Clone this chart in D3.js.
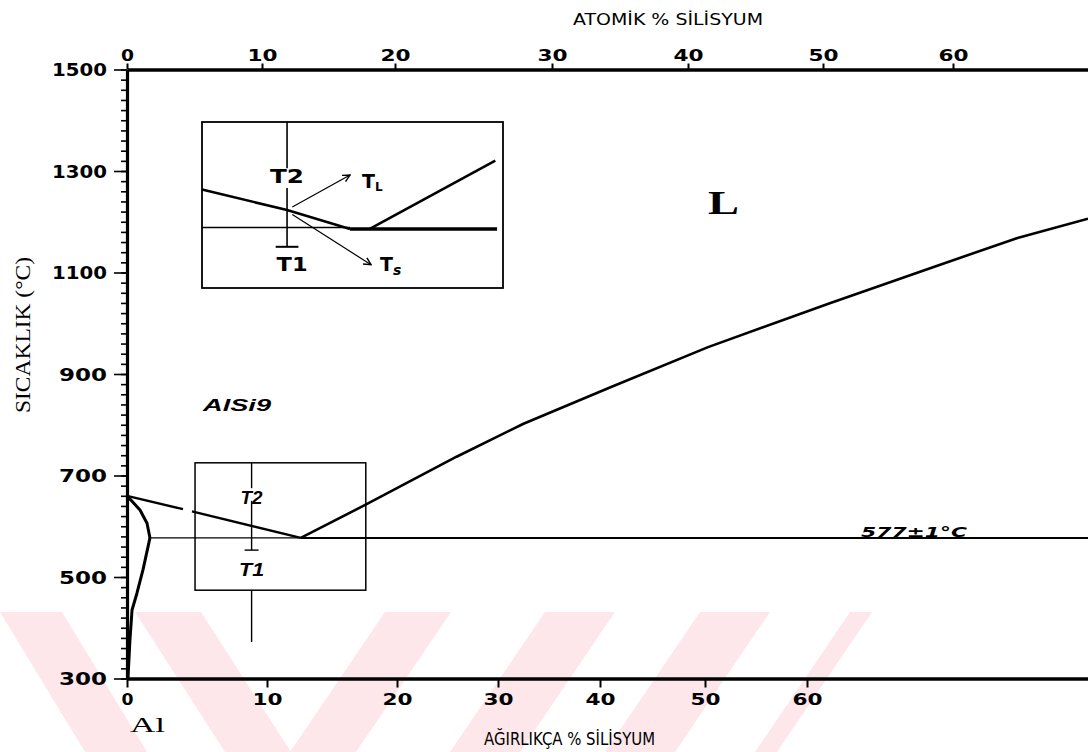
<!DOCTYPE html>
<html><head><meta charset="utf-8">
<script src="https://cdn.jsdelivr.net/npm/d3@7"></script>
<style>html,body{margin:0;padding:0;background:#fff;} svg{display:block;}</style>
</head><body>
<svg id="c" width="1088" height="752"></svg>
<script>
// ---------------- data ----------------
const yTicks = [300, 500, 700, 900, 1100, 1300, 1500];
const yMinorStep = 20;
const xTicksWt = [0, 10, 20, 30, 40, 50, 60];
const xTicksAt = [0, 10, 20, 30, 40, 50, 60];
// Al-Si phase diagram (wt% Si, °C)
const liquidusLeftA = [[0, 660], [4.0, 633.6]];
const liquidusLeftB = [[4.64, 629.4], [12.6, 577]];
const liquidusRight = [[12.6, 577], [17.7, 644], [25.9, 737], [32.5, 802], [41.0, 874], [50.3, 953], [62.3, 1040], [72.4, 1111], [80.6, 1168], [87.5, 1206]];
const solidusAl = [[0, 660], [0.93, 632], [1.43, 606], [1.64, 577]];
const solvusAl = [[1.64, 577], [1.14, 514], [0.71, 468], [0.36, 435], [0.21, 376], [0.07, 300]];
const eutectic = [[1.64, 577], [12.6, 577], [87.5, 577]];
const alloySi = 8.9;                   // AlSi9
const zoomBox = [4.86, 17.6, 474, 725]; // wt min, wt max, T min, T max
const alloySegs = [[725, 675], [650, 553], [474, 372]];
// inset (schematic enlargement)
const insetDomainX = [4.14, 21.34];
const insetDomainY = [499.4, 717.8];
const insetLiqLeft = [[4.14, 629], [9, 602], [12.6, 577]];
const insetLiqRight = [[13.7, 577], [20.9, 667]];
const insetEutThin = [[4.14, 579], [12.6, 579]];
const insetEutThick = [[12.6, 577], [21.0, 577]];

// ---------------- scales ----------------
const svg = d3.select("#c");
const x = d3.scaleLinear().domain([0, 10, 20, 30, 40, 50, 60, 87.5]).range([127, 267, 397, 498, 600, 705, 807, 1088]);
const xAt = d3.scaleLinear().domain([0, 10, 20, 30, 40, 50, 60, 70]).range([127, 262, 395, 552, 688, 823, 953, 1088]);
const y = d3.scaleLinear().domain([300, 1500]).range([678.5, 69.5]);
const line = d3.line().x(d => x(d[0])).y(d => y(d[1]));

// ---------------- watermark ----------------
const wm = svg.append("g").attr("fill", "#fde7eb");
const stripes = [
  // [x at top, x at bottom, width]
  [0, 85, 62], [135, 225, 66], [385, 290, 66],
  [545, 450, 70], [700, 605, 70], [850, 755, 22]
];
stripes.forEach(s => {
  wm.append("path").attr("d", `M${s[0]},612 L${s[0] + s[2]},612 L${s[1] + s[2]},752 L${s[1]},752 Z`);
});

// ---------------- axes ----------------
const fontTick = "'DejaVu Sans', sans-serif";
const fmt = d3.format("d");
// left axis
const gL = svg.append("g").attr("transform", `translate(${x(0)},0)`);
gL.call(d3.axisLeft(y).tickValues(d3.range(300, 1501, yMinorStep)).tickSize(6).tickSizeOuter(0).tickFormat(""));
gL.call(g => g.selectAll(".tick line").attr("stroke-width", 1.6));
const gL2 = svg.append("g").attr("transform", `translate(${x(0)},0)`);
gL2.call(d3.axisLeft(y).tickValues(yTicks).tickFormat(fmt).tickSize(13).tickSizeOuter(0).tickPadding(7));
gL2.selectAll(".domain").attr("stroke-width", 3.2);
gL2.selectAll(".tick line").attr("stroke-width", 1.6);
gL2.selectAll(".tick text")
  .attr("font-family", fontTick).attr("font-weight", "bold").attr("font-size", 18)
  .attr("dy", "0.36em")
  .attr("textLength", function () { return this.textContent.length > 3 ? 55 : 48; })
  .attr("lengthAdjust", "spacingAndGlyphs");

// bottom axis
const gB = svg.append("g").attr("transform", `translate(0,${y(300)})`);
gB.call(d3.axisBottom(x).tickValues(xTicksWt).tickFormat(fmt).tickSize(9).tickSizeOuter(0).tickPadding(6));
gB.selectAll(".domain").attr("stroke-width", 3.6);
gB.selectAll(".tick line").attr("stroke-width", 2);
gB.selectAll(".tick text")
  .attr("font-family", fontTick).attr("font-weight", "bold").attr("font-size", 16)
  .attr("textLength", function () { return this.textContent.length > 1 ? 30 : 12; })
  .attr("lengthAdjust", "spacingAndGlyphs");

// top axis (atomic %)
const gT = svg.append("g").attr("transform", `translate(0,${y(1500)})`);
gT.call(d3.axisTop(xAt).tickValues(xTicksAt).tickFormat(fmt).tickSize(6).tickSizeOuter(0).tickPadding(3));
gT.selectAll(".domain").attr("stroke-width", 3.6);
gT.selectAll(".tick line").attr("stroke-width", 2);
gT.selectAll(".tick text")
  .attr("font-family", fontTick).attr("font-weight", "bold").attr("font-size", 16)
  .attr("textLength", function () { return this.textContent.length > 1 ? 30 : 13; })
  .attr("lengthAdjust", "spacingAndGlyphs");

// axis titles
svg.append("text").text("ATOMİK % SİLİSYUM")
  .attr("x", 573).attr("y", 25).attr("font-family", "'DejaVu Sans', sans-serif").attr("font-size", 16)
  .attr("textLength", 190).attr("lengthAdjust", "spacingAndGlyphs");
svg.append("text").text("AĞIRLIKÇA % SİLİSYUM")
  .attr("x", 484).attr("y", 745).attr("font-family", "'DejaVu Sans', sans-serif").attr("font-size", 18)
  .attr("textLength", 171).attr("lengthAdjust", "spacingAndGlyphs");
svg.append("text").text("SICAKLIK (°C)")
  .attr("transform", "translate(30,335) rotate(-90)").attr("text-anchor", "middle")
  .attr("font-family", "'Liberation Serif', serif").attr("font-size", 20)
  .attr("textLength", 156).attr("lengthAdjust", "spacingAndGlyphs");

// ---------------- phase lines ----------------
const gP = svg.append("g").attr("fill", "none").attr("stroke", "#000").attr("stroke-linejoin", "round");
gP.append("path").attr("d", line(liquidusLeftA)).attr("stroke-width", 2.4);
gP.append("path").attr("d", line(liquidusLeftB)).attr("stroke-width", 2.4);
gP.append("path").attr("d", line(liquidusRight)).attr("stroke-width", 2.6);
gP.append("path").attr("d", line(solidusAl)).attr("stroke-width", 3);
gP.append("path").attr("d", line(solvusAl)).attr("stroke-width", 3);
gP.append("path").attr("d", line(eutectic.slice(0, 2))).attr("stroke-width", 1.4);
gP.append("path").attr("d", line(eutectic.slice(1))).attr("stroke-width", 2);

// zoom rectangle
svg.append("rect")
  .attr("x", x(zoomBox[0])).attr("y", y(zoomBox[3]))
  .attr("width", x(zoomBox[1]) - x(zoomBox[0])).attr("height", y(zoomBox[2]) - y(zoomBox[3]))
  .attr("fill", "none").attr("stroke", "#000").attr("stroke-width", 1.5);
// alloy vertical line (AlSi9) segments
alloySegs.forEach(s => gP.append("path").attr("d", line([[alloySi, s[0]], [alloySi, s[1]]])).attr("stroke-width", 1.4));
gP.append("path").attr("d", line([[alloySi - 0.5, 553], [alloySi + 0.5, 553]])).attr("stroke-width", 1.4);
svg.append("text").text("T2").attr("x", x(alloySi)).attr("y", y(650) + 3).attr("text-anchor", "middle")
  .attr("font-family", "'Liberation Sans', Arial, sans-serif").attr("font-weight", "bold").attr("font-style", "italic")
  .attr("font-size", 19).attr("textLength", 22).attr("lengthAdjust", "spacingAndGlyphs");
svg.append("text").text("T1").attr("x", x(alloySi)).attr("y", y(508) + 3).attr("text-anchor", "middle")
  .attr("font-family", "'Liberation Sans', Arial, sans-serif").attr("font-weight", "bold").attr("font-style", "italic")
  .attr("font-size", 19).attr("textLength", 25).attr("lengthAdjust", "spacingAndGlyphs");

// labels
svg.append("text").text("L").attr("x", 708).attr("y", 214)
  .attr("font-family", "'Liberation Serif', serif").attr("font-size", 34).attr("font-weight", "bold")
  .attr("textLength", 31).attr("lengthAdjust", "spacingAndGlyphs");
svg.append("text").text("AlSi9").attr("x", 203).attr("y", 411)
  .attr("font-family", "'Liberation Sans', Arial, sans-serif").attr("font-size", 16).attr("font-weight", "bold").attr("font-style", "italic")
  .attr("textLength", 68).attr("lengthAdjust", "spacingAndGlyphs");
svg.append("text").text("577±1°C").attr("x", 861).attr("y", 537)
  .attr("font-family", "'DejaVu Sans', sans-serif").attr("font-size", 14).attr("font-weight", "bold").attr("font-style", "italic")
  .attr("textLength", 106).attr("lengthAdjust", "spacingAndGlyphs");
svg.append("text").text("Al").attr("x", 130).attr("y", 732)
  .attr("font-family", "'Liberation Serif', serif").attr("font-size", 21)
  .attr("textLength", 35).attr("lengthAdjust", "spacingAndGlyphs");

// ---------------- inset ----------------
const ix = d3.scaleLinear().domain(insetDomainX).range([202, 503]);
const iy = d3.scaleLinear().domain(insetDomainY).range([288, 122]);
const iline = d3.line().x(d => ix(d[0])).y(d => iy(d[1]));
const gI = svg.append("g");
gI.append("rect").attr("x", 202).attr("y", 122).attr("width", 301).attr("height", 166)
  .attr("fill", "#fff").attr("stroke", "#000").attr("stroke-width", 1.8);
const gIL = gI.append("g").attr("fill", "none").attr("stroke", "#000");
gIL.append("path").attr("d", iline(insetLiqLeft)).attr("stroke-width", 2.6);
gIL.append("path").attr("d", iline(insetLiqRight)).attr("stroke-width", 2.6);
gIL.append("path").attr("d", iline(insetEutThin)).attr("stroke-width", 1.3);
gIL.append("path").attr("d", iline(insetEutThick)).attr("stroke-width", 3.4);
const iv = [[717.8, 657], [631, 553.6]];
iv.forEach(s => gIL.append("path").attr("d", iline([[9, s[0]], [9, s[1]]])).attr("stroke-width", 1.6));
gIL.append("path").attr("d", iline([[9 - 0.65, 553.6], [9 + 0.65, 553.6]])).attr("stroke-width", 2);

const defs = svg.append("defs");
defs.append("marker").attr("id", "ah").attr("viewBox", "0 0 10 10").attr("refX", 9).attr("refY", 5)
  .attr("markerWidth", 9).attr("markerHeight", 9).attr("orient", "auto").attr("markerUnits", "userSpaceOnUse")
  .append("path").attr("d", "M1,1 L9,5 L1,9").attr("fill", "none").attr("stroke", "#000").attr("stroke-width", 1.6);
gIL.append("path").attr("d", iline([[9.3, 606], [12.6, 648]])).attr("stroke-width", 1.2).attr("marker-end", "url(#ah)");
gIL.append("path").attr("d", iline([[9.3, 596], [13.8, 530]])).attr("stroke-width", 1.2).attr("marker-end", "url(#ah)");

const fI = "'DejaVu Sans', Arial, sans-serif";
gI.append("text").text("T2").attr("x", ix(9)).attr("y", 183).attr("text-anchor", "middle")
  .attr("font-family", fI).attr("font-weight", "bold").attr("font-size", 19).attr("textLength", 34).attr("lengthAdjust", "spacingAndGlyphs");
gI.append("text").text("T1").attr("x", ix(9) + 5).attr("y", 271).attr("text-anchor", "middle")
  .attr("font-family", fI).attr("font-weight", "bold").attr("font-size", 19).attr("textLength", 31).attr("lengthAdjust", "spacingAndGlyphs");
const tl = gI.append("text").attr("x", 362).attr("y", 188).attr("font-family", fI).attr("font-weight", "bold").attr("font-size", 19);
tl.append("tspan").text("T");
tl.append("tspan").text("L").attr("font-size", 12).attr("dy", 3);
const ts = gI.append("text").attr("x", 380).attr("y", 271).attr("font-family", fI).attr("font-weight", "bold").attr("font-size", 19);
ts.append("tspan").text("T");
ts.append("tspan").text("s").attr("font-size", 14).attr("dy", 4).attr("font-style", "italic");
</script>
</body></html>
